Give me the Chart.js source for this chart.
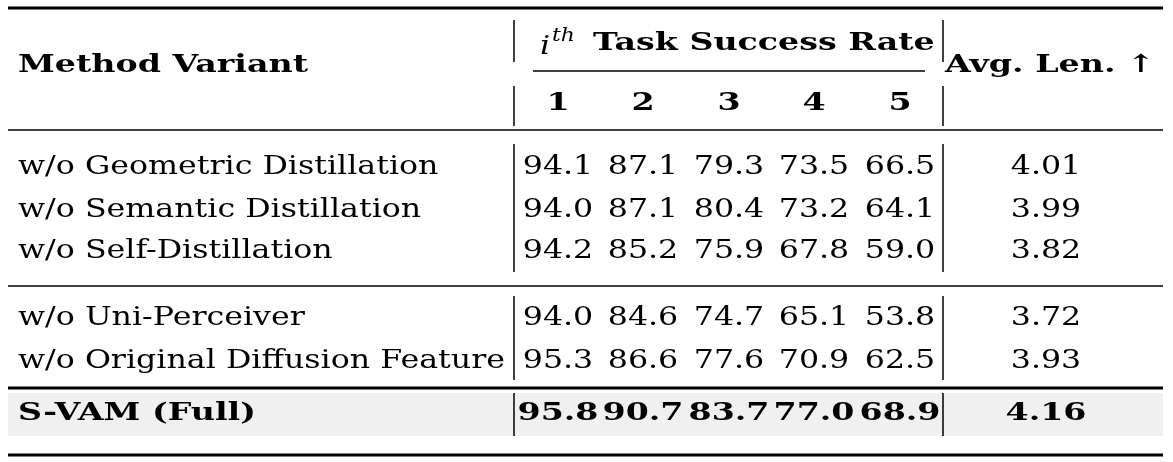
<!DOCTYPE html>
<html><head><meta charset="utf-8">
<script src="https://cdn.jsdelivr.net/npm/chart.js@4/dist/chart.umd.min.js"></script>
<style>html,body{margin:0;padding:0;background:#fff}#wrap{width:1173px;height:462px}</style>
</head><body><div id="wrap"><canvas id="c"></canvas></div>
<script>
const methods = ["w/o Geometric Distillation","w/o Semantic Distillation","w/o Self-Distillation","w/o Uni-Perceiver","w/o Original Diffusion Feature","S-VAM (Full)"];
const taskCols = ["1","2","3","4","5"];
const rate1 = [94.1,94.0,94.2,94.0,95.3,95.8];
const rate2 = [87.1,87.1,85.2,84.6,86.6,90.7];
const rate3 = [79.3,80.4,75.9,74.7,77.6,83.7];
const rate4 = [73.5,73.2,67.8,65.1,70.9,77.0];
const rate5 = [66.5,64.1,59.0,53.8,62.5,68.9];
const avgLen = [4.01,3.99,3.82,3.72,3.93,4.16];

const rowY = [167,210,251,318,361,413];
const colX = [558,643,729,814,900];
const avgX = 1046;
const SERIF = '"DejaVu Serif","Liberation Serif",serif';

const tablePlugin = {
  id:'table',
  afterDraw(chart){
    const ctx = chart.ctx, xs = chart.scales.x, ys = chart.scales.y;
    const X = v=>xs.getPixelForValue(v), Y = v=>ys.getPixelForValue(v);
    ctx.save();
    ctx.fillStyle='#f0f0f0';
    ctx.fillRect(X(8),Y(393),X(1163)-X(8),Y(436)-Y(393));
    const hline=(y,w,x0=8,x1=1163)=>{ctx.strokeStyle='#000';ctx.lineWidth=w;ctx.beginPath();ctx.moveTo(X(x0),Y(y));ctx.lineTo(X(x1),Y(y));ctx.stroke();};
    hline(8,3); hline(130,1.5); hline(286,1.5); hline(388,3); hline(455,3);
    hline(71,1.5,533,925);
    const vline=(x,y0,y1)=>{ctx.lineWidth=1.5;ctx.beginPath();ctx.moveTo(X(x),Y(y0));ctx.lineTo(X(x),Y(y1));ctx.stroke();};
    [[20,62],[86,126],[144,188],[188,230],[230,272],[296,338],[338,380],[393,436]].forEach(([a,b])=>{vline(514,a,b);vline(943,a,b);});
    ctx.fillStyle='#000'; ctx.textBaseline='middle';
    const bold='bold 25px '+SERIF, reg='26px '+SERIF;
    ctx.font=reg; const kr = 487/ctx.measureText('w/o Original Diffusion Feature').width;
    ctx.font=bold; const kb = 290/ctx.measureText('Method Variant').width;
    const txt=(s,x,y,align,font,k)=>{
      ctx.font=font; ctx.textAlign=align;
      ctx.save(); ctx.translate(X(x),Y(y)); ctx.scale(k,1); ctx.fillText(s,0,0); ctx.restore();
    };
    txt('Method Variant',18,65,'left',bold,kb);
    txt('i',540,47,'left','italic 26px '+SERIF,kr);
    txt('th',552,36,'left','italic 18px '+SERIF,kr);
    txt('Task Success Rate',593,43,'left',bold,kb);
    txt('Avg. Len. \u2191',1050,65,'center',bold,kb);
    taskCols.forEach((t,i)=>txt(t,colX[i],103,'center',bold,kb));
    const cols=[rate1,rate2,rate3,rate4,rate5];
    methods.forEach((m,r)=>{
      const b = r===methods.length-1;
      const f=b?bold:reg, k=b?kb:kr;
      txt(m,18,rowY[r],'left',f,k);
      cols.forEach((c,i)=>txt(c[r].toFixed(1),colX[i],rowY[r],'center',f,k));
      txt(avgLen[r].toFixed(2),avgX,rowY[r],'center',f,k);
    });
    ctx.restore();
  }
};

new Chart(document.getElementById('c'),{
  type:'scatter',
  data:{datasets:[{data:[],pointRadius:0}]},
  options:{
    responsive:true,maintainAspectRatio:false,animation:false,
    layout:{padding:0},
    plugins:{legend:{display:false},tooltip:{enabled:false}},
    scales:{
      x:{type:'linear',min:0,max:1173,display:false},
      y:{type:'linear',min:0,max:462,reverse:true,display:false}
    }
  },
  plugins:[tablePlugin]
});
</script></body></html>
